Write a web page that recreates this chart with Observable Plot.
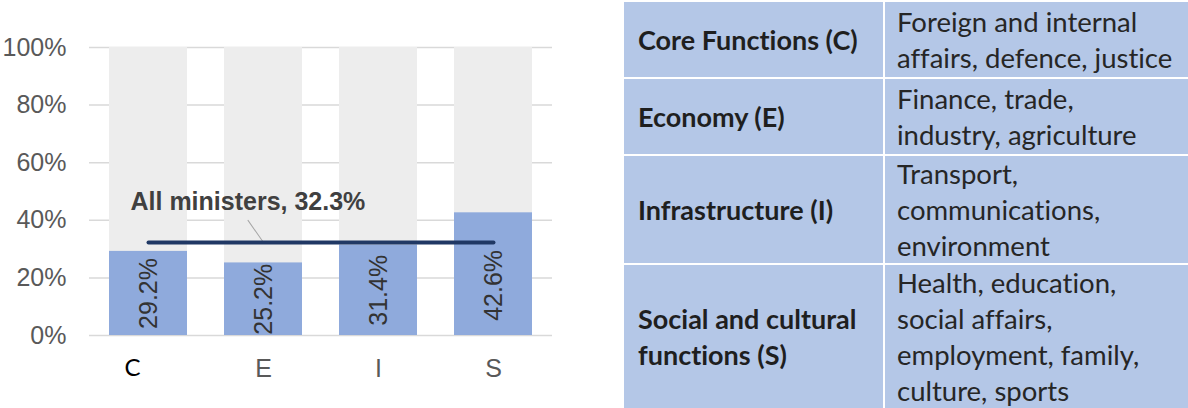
<!DOCTYPE html>
<html>
<head>
<meta charset="utf-8">
<script src="https://cdn.jsdelivr.net/npm/d3@7"></script>
<script src="https://cdn.jsdelivr.net/npm/@observablehq/plot@0.6"></script>
<style>
  html, body { margin: 0; padding: 0; background: #ffffff; }
  #wrap { position: relative; width: 1188px; height: 408px; overflow: hidden; }
  #chart { position: absolute; left: 0; top: 0; }
  #table {
    position: absolute; left: 624px; top: 2px;
    display: grid;
    grid-template-columns: 259px 303px;
    grid-template-rows: 75px 75px 107px 143px;
    column-gap: 2px; row-gap: 2px;
    background: #ffffff;
  }
  .cell {
    background: #b4c7e7;
    display: flex; align-items: center;
    font-family: Lato, "Noto Sans", sans-serif;
    font-size: 27.5px; line-height: 36px;
    font-variant-ligatures: none; font-feature-settings: "liga" 0, "clig" 0;
    color: #262626; white-space: nowrap;
  }
  .c1 { padding-left: 14px; font-weight: bold; font-size: 27px; color: #1f1f1f; }
  .c2 { padding-left: 12px; }
</style>
</head>
<body>
<div id="wrap">
  <div id="chart"></div>
  <div id="table"></div>
</div>
<script>
// ---- data ----
const categories = ["C", "E", "I", "S"];
const shares = [29.2, 25.2, 31.4, 42.6];
const allMinisters = 32.3;
const allMinistersLabel = "All ministers, 32.3%";
const annotationAt = ["C", 46.5];     // category, y value of annotation text
const yTicks = [0, 20, 40, 60, 80, 100];

const tableNames = [
  ["Core Functions (C)"],
  ["Economy (E)"],
  ["Infrastructure (I)"],
  ["Social and cultural", "functions (S)"]
];
const tableDescriptions = [
  ["Foreign and internal", "affairs, defence, justice"],
  ["Finance, trade,", "industry, agriculture"],
  ["Transport,", "communications,", "environment"],
  ["Health, education,", "social affairs,", "employment, family,", "culture, sports"]
];

// ---- derived tables ----
const bars = categories.map((c, i) => ({cat: c, v: shares[i]}));
const avgLine = [{cat: categories[0], v: allMinisters}, {cat: categories[categories.length - 1], v: allMinisters}];
const leader = [{cat: "E", v: allMinisters}];
const annot = [{cat: annotationAt[0], v: annotationAt[1], label: allMinistersLabel}];

const lineShape = {
  draw(context, l) { context.moveTo(0, 0); context.lineTo(0, -l); }
};

const chart = Plot.plot({
  width: 600,
  height: 408,
  marginLeft: 89,
  marginRight: 48,
  marginTop: 47,
  marginBottom: 73,
  style: {fontFamily: "'Liberation Sans', Arial, sans-serif", background: "#ffffff", overflow: "visible"},
  x: {domain: categories, paddingInner: 0.326, paddingOuter: 0.163, label: null},
  y: {domain: [0, 100], label: null},
  marks: [
    Plot.gridY(yTicks, {stroke: "#d9d9d9", strokeOpacity: 1, strokeWidth: 1.5}),
    Plot.barY(bars, {x: "cat", y1: 0, y2: 100, fill: "#ededed"}),
    Plot.barY(bars, {x: "cat", y: "v", fill: "#8faadc"}),
    Plot.text(bars, {x: "cat", y: d => Math.min(d.v / 2, 17.4), text: d => d.v.toFixed(1) + "%", rotate: -90,
      fontSize: 25, fill: "#333333"}),
    Plot.vector(leader, {x: "cat", y: "v", length: 27, rotate: -35, anchor: "start", shape: lineShape,
      stroke: "#a6a6a6", strokeWidth: 1}),
    Plot.line(avgLine, {x: "cat", y: "v", stroke: "#203864", strokeWidth: 4, strokeLinecap: "round"}),
    Plot.text(annot, {x: "cat", y: "v", text: "label", textAnchor: "start", dx: -18,
      fontSize: 25, fontWeight: "bold", fill: "#404040"}),
    Plot.axisY({ticks: yTicks, tickFormat: d => d + "%", tickSize: 0, tickPadding: 23,
      fontSize: 25, fill: "#595959", label: null}),
    Plot.axisX({ticks: categories.slice(1), tickSize: 0, tickPadding: 24, fontSize: 25,
      fill: "#595959", label: null}),
    Plot.axisX({ticks: categories.slice(0, 1), tickSize: 0, tickPadding: 23, fontSize: 24,
      fill: "#000000", dx: -16, fontFamily: "Lato, sans-serif", label: null})
  ]
});
document.getElementById("chart").appendChild(chart);

// ---- table ----
const table = document.getElementById("table");
tableNames.forEach((name, i) => {
  const a = document.createElement("div");
  a.className = "cell c1";
  a.innerHTML = "<div>" + name.join("<br>") + "</div>";
  table.appendChild(a);
  const b = document.createElement("div");
  b.className = "cell c2";
  b.innerHTML = "<div>" + tableDescriptions[i].join("<br>") + "</div>";
  table.appendChild(b);
});
</script>
</body>
</html>
